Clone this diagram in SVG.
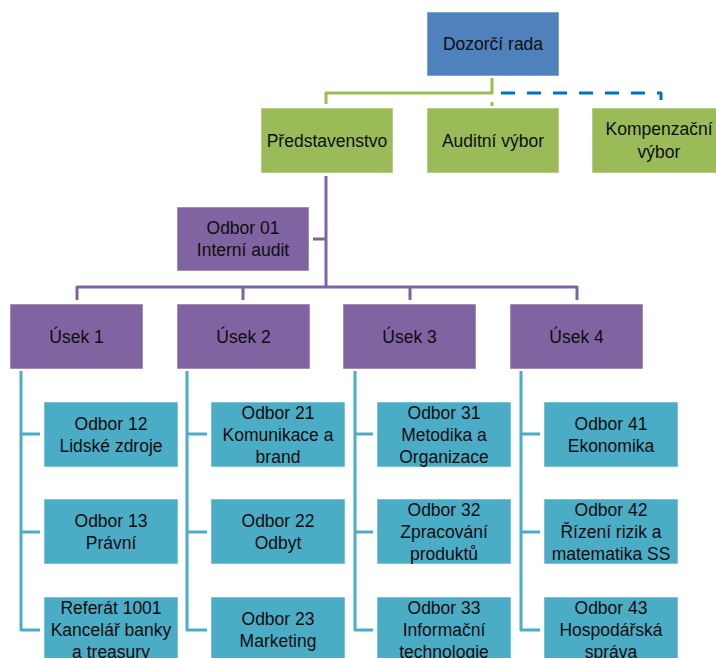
<svg xmlns="http://www.w3.org/2000/svg" width="716" height="658" viewBox="0 0 716 658">
<style>
text{font-family:"Liberation Sans",Arial,sans-serif;font-size:17.5px;fill:#0d0d0d;text-anchor:middle}
.box{stroke:#ffffff;stroke-opacity:0.55;stroke-width:1}
.blue{fill:#4F81BD}.green{fill:#9BBB59}.purple{fill:#8064A2}.cyan{fill:#4BACC6}
.c{fill:none;stroke-width:3;stroke-linejoin:round}
.cg{stroke:#9BBB59}.cp{stroke:#8064A2}.cc{stroke:#4BACC6}
.cd{stroke:#0070C0;stroke-dasharray:14 12}
</style>
<g id="connectors">
<path class="c cg" d="M492 78 V93 H326 V104"/>
<path class="c cg" d="M492 102 V106"/>
<path class="c cd" d="M501 93 H661 V100"/>
<path class="c cp" d="M326 176 V287 M313 239 H326 M77 300 V287 H577 V300 M243 287 V300 M410 287 V300"/>
<path class="c cc" d="M21 371 V630 H40 M21 434 H40 M21 532 H40"/>
<path class="c cc" d="M187 371 V630 H207 M187 434 H207 M187 532 H207"/>
<path class="c cc" d="M355 371 V630 H373 M355 434 H373 M355 532 H373"/>
<path class="c cc" d="M521 371 V630 H540 M521 434 H540 M521 532 H540"/>
</g>
<g id="dozorci-rada"><rect class="box blue" x="427" y="12" width="132" height="64"/><text x="493" y="50">Dozorčí rada</text></g>
<g id="predstavenstvo"><rect class="box green" x="261" y="108" width="132" height="65"/><text x="327" y="146.5">Představenstvo</text></g>
<g id="auditni-vybor"><rect class="box green" x="427" y="108" width="132" height="65"/><text x="493" y="146.5">Auditní výbor</text></g>
<g id="kompenzacni-vybor"><rect class="box green" x="592" y="108" width="132" height="65"/><text x="659" y="135">Kompenzační</text><text x="659" y="158">výbor</text></g>
<g id="odbor-01"><rect class="box purple" x="177" y="207" width="132" height="64"/><text x="243" y="234">Odbor 01</text><text x="243" y="256">Interní audit</text></g>
<g id="usek-1"><rect class="box purple" x="10" y="304" width="133" height="65"/><text x="76.5" y="342.5">Úsek 1</text></g>
<g id="usek-2"><rect class="box purple" x="177" y="304" width="133" height="65"/><text x="243.5" y="342.5">Úsek 2</text></g>
<g id="usek-3"><rect class="box purple" x="343" y="304" width="133" height="65"/><text x="409.5" y="342.5">Úsek 3</text></g>
<g id="usek-4"><rect class="box purple" x="510" y="304" width="133" height="65"/><text x="576.5" y="342.5">Úsek 4</text></g>
<g id="odbor-12"><rect class="box cyan" x="44" y="402" width="134" height="65"/><text x="111" y="429.5">Odbor 12</text><text x="111" y="451.5">Lidské zdroje</text></g>
<g id="odbor-13"><rect class="box cyan" x="44" y="499" width="134" height="65"/><text x="111" y="526.5">Odbor 13</text><text x="111" y="548.5">Právní</text></g>
<g id="referat-1001"><rect class="box cyan" x="44" y="597" width="134" height="65"/><text x="111" y="613.5">Referát 1001</text><text x="111" y="635.5">Kancelář banky</text><text x="111" y="657.5">a treasury</text></g>
<g id="odbor-21"><rect class="box cyan" x="211" y="402" width="134" height="65"/><text x="278" y="418.5">Odbor 21</text><text x="278" y="440.5">Komunikace a</text><text x="278" y="462.5">brand</text></g>
<g id="odbor-22"><rect class="box cyan" x="211" y="499" width="134" height="65"/><text x="278" y="526.5">Odbor 22</text><text x="278" y="548.5">Odbyt</text></g>
<g id="odbor-23"><rect class="box cyan" x="211" y="597" width="134" height="65"/><text x="278" y="624.5">Odbor 23</text><text x="278" y="646.5">Marketing</text></g>
<g id="odbor-31"><rect class="box cyan" x="377" y="402" width="134" height="65"/><text x="444" y="418.5">Odbor 31</text><text x="444" y="440.5">Metodika a</text><text x="444" y="462.5">Organizace</text></g>
<g id="odbor-32"><rect class="box cyan" x="377" y="499" width="134" height="65"/><text x="444" y="515.5">Odbor 32</text><text x="444" y="537.5">Zpracování</text><text x="444" y="559.5">produktů</text></g>
<g id="odbor-33"><rect class="box cyan" x="377" y="597" width="134" height="65"/><text x="444" y="613.5">Odbor 33</text><text x="444" y="635.5">Informační</text><text x="444" y="657.5">technologie</text></g>
<g id="odbor-41"><rect class="box cyan" x="544" y="402" width="134" height="65"/><text x="611" y="429.5">Odbor 41</text><text x="611" y="451.5">Ekonomika</text></g>
<g id="odbor-42"><rect class="box cyan" x="544" y="499" width="134" height="65"/><text x="611" y="515.5">Odbor 42</text><text x="611" y="537.5">Řízení rizik a</text><text x="611" y="559.5">matematika SS</text></g>
<g id="odbor-43"><rect class="box cyan" x="544" y="597" width="134" height="65"/><text x="611" y="613.5">Odbor 43</text><text x="611" y="635.5">Hospodářská</text><text x="611" y="657.5">správa</text></g>
</svg>
